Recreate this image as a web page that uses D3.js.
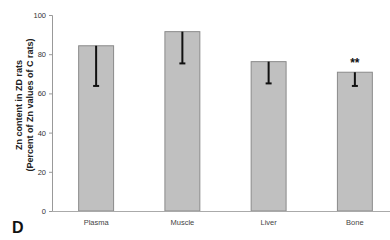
<!DOCTYPE html>
<html><head><meta charset="utf-8">
<script src="https://cdn.jsdelivr.net/npm/d3@7"></script>
<style>body{margin:0;background:#fff}svg{display:block}</style>
</head><body>
<svg id="c" width="390" height="240"></svg>
<script>
const categories = ["Plasma", "Muscle", "Liver", "Bone"];
const values = [84.3, 91.5, 76.2, 70.8];
const errorLow = [63.8, 75.3, 65.1, 63.8];
const significance = ["", "", "", "**"];
const yTicks = [0, 20, 40, 60, 80, 100];

const FONT = "Liberation Sans, Arial, sans-serif";
const svg = d3.select("#c");
const x = d3.scaleBand().domain(categories).range([53, 398]).paddingInner(0.595).paddingOuter(0.2975);
const y = d3.scaleLinear().domain([0, 100]).range([211, 15]);

// bars
svg.selectAll("rect.bar").data(categories).enter().append("rect")
  .attr("x", d => x(d)).attr("width", x.bandwidth())
  .attr("y", (d, i) => y(values[i])).attr("height", (d, i) => y(0) - y(values[i]))
  .attr("fill", "#c0c0c0").attr("stroke", "#8a8a8a").attr("stroke-width", 1);

// error bars
svg.selectAll("line.err").data(categories).enter().append("line")
  .attr("x1", d => x(d) + x.bandwidth() / 2).attr("x2", d => x(d) + x.bandwidth() / 2)
  .attr("y1", (d, i) => y(values[i])).attr("y2", (d, i) => y(errorLow[i]))
  .attr("stroke", "#111").attr("stroke-width", 2);
svg.selectAll("line.cap").data(categories).enter().append("line")
  .attr("x1", d => x(d) + x.bandwidth() / 2 - 3).attr("x2", d => x(d) + x.bandwidth() / 2 + 3)
  .attr("y1", (d, i) => y(errorLow[i])).attr("y2", (d, i) => y(errorLow[i]))
  .attr("stroke", "#111").attr("stroke-width", 2);

// significance
svg.selectAll("text.sig").data(categories).enter().append("text")
  .attr("x", d => x(d) + x.bandwidth() / 2)
  .attr("y", (d, i) => y(values[i]) - 5)
  .attr("text-anchor", "middle").attr("font-family", FONT)
  .attr("font-size", 12).attr("font-weight", "bold").attr("fill", "#111")
  .text((d, i) => significance[i]);

// y axis
const ya = svg.append("g").attr("transform", "translate(52,0)")
  .call(d3.axisLeft(y).tickValues(yTicks).tickSize(3).tickPadding(3));
ya.select(".domain").attr("stroke", "#999");
ya.selectAll(".tick line").attr("stroke", "#999");
ya.selectAll(".tick text").attr("font-family", FONT).attr("font-size", 7.5).attr("fill", "#333");

// x axis
const xa = svg.append("g").attr("transform", "translate(0,211)")
  .call(d3.axisBottom(x).tickSize(0).tickPadding(9));
xa.select(".domain").attr("stroke", "#aaa").attr("d", "M52,0.5H390");
xa.selectAll(".tick text").attr("font-family", FONT).attr("font-size", 7.5).attr("fill", "#444");

// y title
const t = svg.append("text").attr("transform", "translate(22,105) rotate(-90)")
  .attr("text-anchor", "middle").attr("font-family", FONT)
  .attr("font-size", 9).attr("font-weight", "bold").attr("fill", "#222");
t.append("tspan").attr("x", 0).attr("dy", 0).text("Zn content in ZD rats");
t.append("tspan").attr("x", 0).attr("dy", 10.5).text("(Percent of Zn values of C rats)");

// panel letter
svg.append("text").attr("x", 12).attr("y", 233).attr("font-family", FONT)
  .attr("font-size", 16).attr("font-weight", "bold").attr("fill", "#111").text("D");
</script>
</body></html>
